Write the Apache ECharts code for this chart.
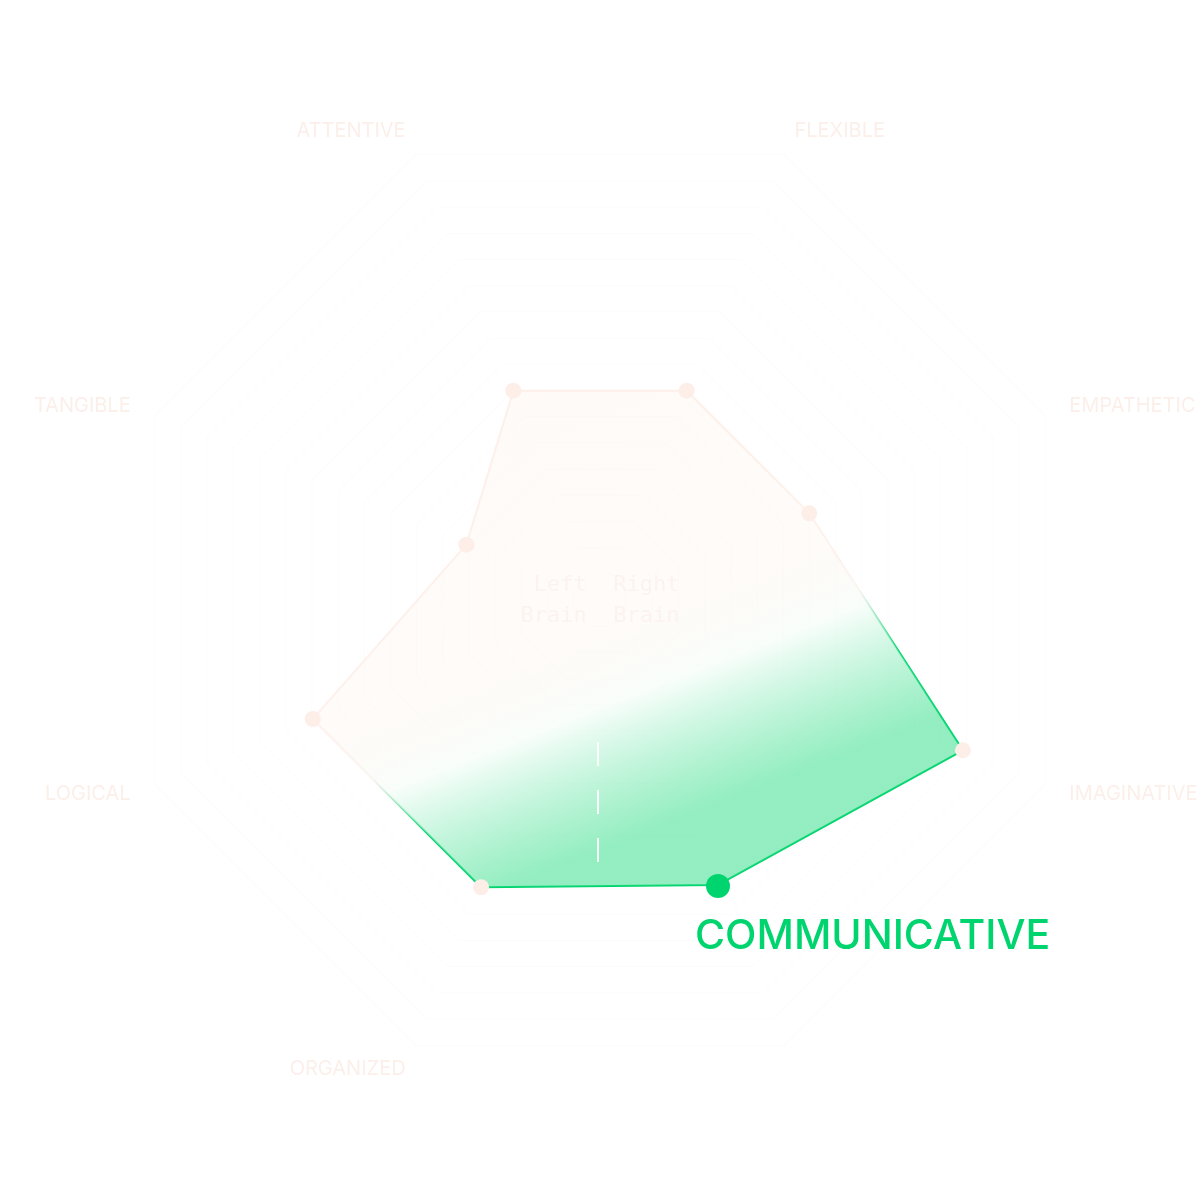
<!DOCTYPE html>
<html>
<head>
    <meta charset="UTF-8">
    <title></title>
    <style type="text/css">
        html, body { margin:0; padding:0; background:#fff; }
        #main1 { width:1200px; height:1200px; }
    </style>
</head>
<body>
<div id="main1"></div>
<script type="text/javascript" src="https://cdn.jsdelivr.net/npm/echarts@6/dist/echarts.min.js"></script>
<script type="text/javascript">
    var traits = ['ATTENTIVE', 'TANGIBLE', 'LOGICAL', 'ORGANIZED', 'COMMUNICATIVE', 'IMAGINATIVE', 'EMPATHETIC', 'FLEXIBLE'];
    var scores = [47, 30, 64.5, 64.5, 64, 81.5, 47, 47];
    var highlight = 'COMMUNICATIVE';
    var peach = '#fdeee8';
    var green = '#00d46e';

    var myChart1 = echarts.init(document.getElementById('main1'));
    var option1 = {
        backgroundColor: '#fff',
        radar: {
            center: ['50%', '50%'],
            radius: 482,
            startAngle: 112.5,
            splitNumber: 17,
            shape: 'polygon',
            indicator: traits.map(function (t) { return {name: t, max: 100}; }),
            axisName: {
                color: '#fcefe9',
                fontFamily: 'Inter',
                fontSize: 20,
                formatter: function (n) { return n === highlight ? '' : n; }
            },
            nameGap: 26,
            axisLine: {show: false},
            splitArea: {show: false},
            splitLine: {lineStyle: {color: '#fcfcfc', width: 1}}
        },
        series: [{
            type: 'radar',
            symbol: 'circle',
            symbolSize: 16,
            data: [{
                value: scores,
                itemStyle: {color: peach},
                lineStyle: {
                    width: 2,
                    color: new echarts.graphic.LinearGradient(0, 0, 0.3, 1, [
                        {offset: 0, color: peach},
                        {offset: 0.72, color: '#fdf2ee'},
                        {offset: 0.85, color: green},
                        {offset: 1, color: green}
                    ])
                },
                areaStyle: {
                    opacity: 1,
                    color: new echarts.graphic.LinearGradient(0, 0, 0.3, 1, [
                        {offset: 0, color: 'rgba(253,238,230,0.3)'},
                        {offset: 0.6, color: 'rgba(253,240,232,0.25)'},
                        {offset: 0.75, color: 'rgba(245,253,248,0.6)'},
                        {offset: 1, color: 'rgba(40,220,130,0.5)'}
                    ])
                }
            }]
        }],
        graphic: [
            {type: 'text', left: 'center', top: 570, z: 10,
                style: {text: ' Left  Right\nBrain  Brain', fill: '#fcf3ef', font: '22px "DejaVu Sans Mono"', lineHeight: 31, align: 'right'}},
            {type: 'line', z: 10, shape: {x1: 598, y1: 742, x2: 598, y2: 886},
                style: {stroke: 'rgba(255,255,255,0.9)', lineWidth: 2, lineDash: [24, 24]}},
            {type: 'circle', z: 20, shape: {cx: 718, cy: 886, r: 12}, style: {fill: green}},
            {type: 'text', left: 695, top: 916, z: 20,
                style: {text: highlight, fill: green, font: '500 41px Inter'}}
        ]
    };
    myChart1.setOption(option1);
</script>
</body>
</html>
